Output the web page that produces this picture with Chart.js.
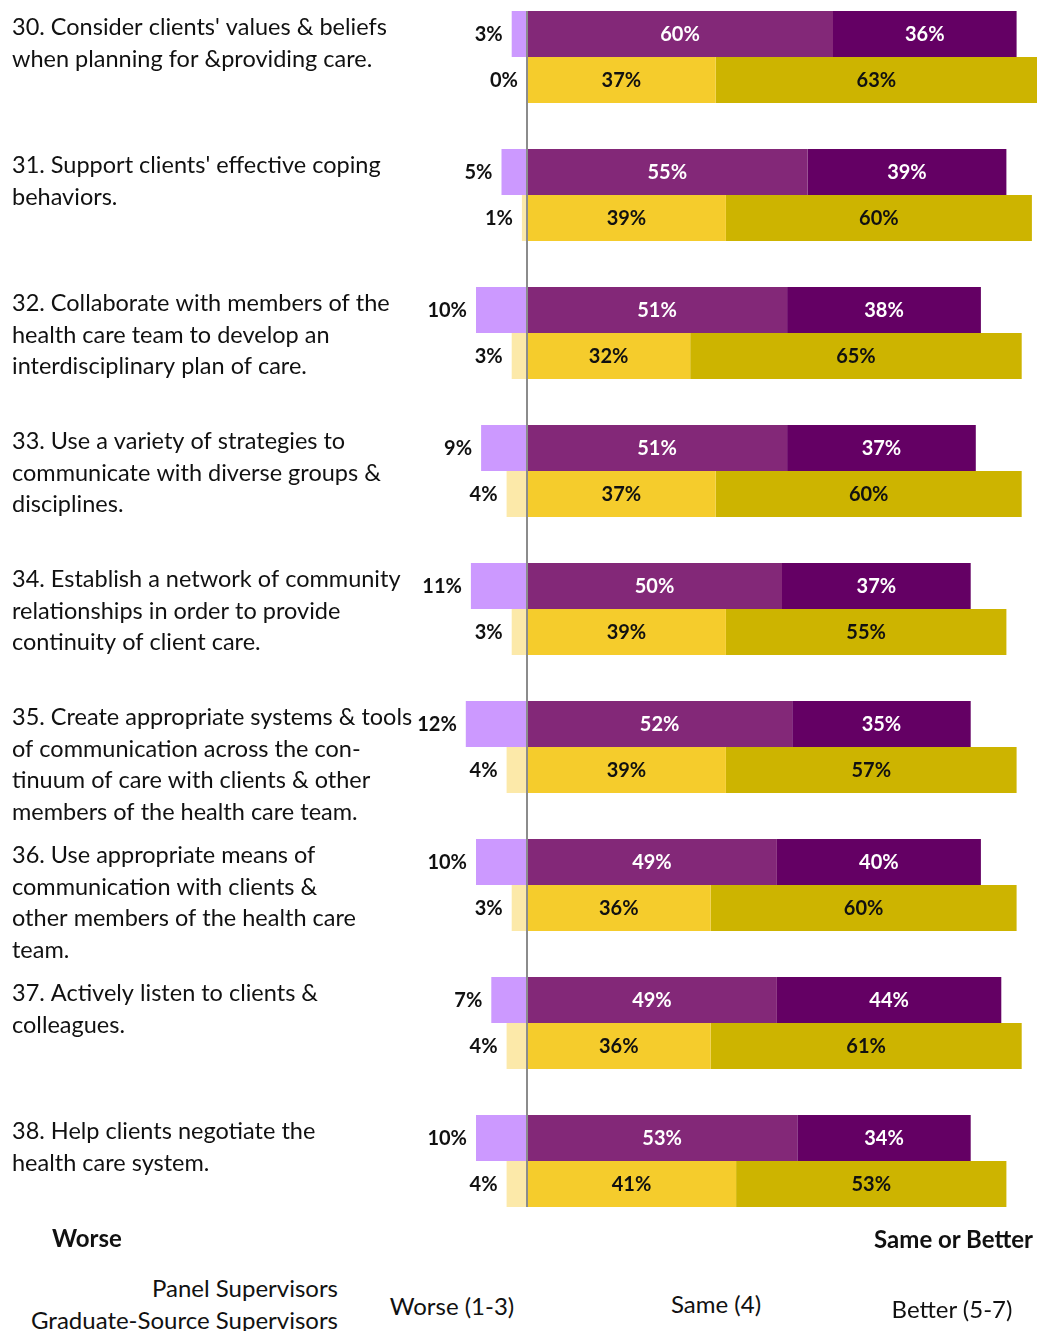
<!DOCTYPE html>
<html lang="en">
<head>
    <meta charset="UTF-8">
    <title>Worse / Same or Better</title>
    <script src="https://cdn.jsdelivr.net/npm/chart.js"></script>
    <style>
        body {
            margin: 0;
            width: 1037px;
            height: 1331px;
            position: relative;
            overflow: hidden;
            background: #fff;
            font-family: 'Lato', sans-serif;
            color: #111;
        }

        #wrap {
            position: absolute;
            left: 0;
            top: -12px;
            width: 1037px;
            height: 1242px;
        }

        .txt {
            position: absolute;
            font-size: 24px;
            white-space: nowrap;
            transform: translateY(-50%);
        }
    </style>
</head>
<body>
<div id="wrap"><canvas id="itemChart"></canvas></div>

<div class="txt" style="left:52px; top:1237px; font-weight:bold;">Worse</div>
<div class="txt" style="right:4px; top:1238px; font-weight:bold;">Same or Better</div>
<div class="txt" style="right:699px; top:1287px;">Panel Supervisors</div>
<div class="txt" style="right:699px; top:1319px;">Graduate-Source Supervisors</div>
<div class="txt" style="left:452px; top:1305px; transform:translate(-50%,-50%);">Worse (1-3)</div>
<div class="txt" style="left:716px; top:1303px; transform:translate(-50%,-50%);">Same (4)</div>
<div class="txt" style="left:952px; top:1308px; transform:translate(-50%,-50%);">Better (5-7)</div>

<script>
    // question labels (line breaks as in the original)
    const questions = [
        ["30. Consider clients' values & beliefs", "when planning for &providing care.", ""],
        ["31. Support clients' effective coping", "behaviors.", ""],
        ["32. Collaborate with members of the", "health care team to develop an", "interdisciplinary plan of care."],
        ["33. Use a variety of strategies to", "communicate with diverse groups &", "disciplines."],
        ["34. Establish a network of community", "relationships in order to provide", "continuity of client care."],
        ["", "35. Create appropriate systems & tools", "of communication across the con-", "tinuum of care with clients & other", "members of the health care team."],
        ["", "36. Use appropriate means of", "communication with clients &", "other members of the health care", "team."],
        ["37. Actively listen to clients &", "colleagues.", ""],
        ["38. Help clients negotiate the", "health care system.", ""]
    ];

    // Panel Supervisors (%)
    const panelWorse = [3, 5, 10, 9, 11, 12, 10, 7, 10];
    const panelSame = [60, 55, 51, 51, 50, 52, 49, 49, 53];
    const panelBetter = [36, 39, 38, 37, 37, 35, 40, 44, 34];

    // Graduate-Source Supervisors (%)
    const gradWorse = [0, 1, 3, 4, 3, 4, 3, 4, 4];
    const gradSame = [37, 39, 32, 37, 39, 39, 36, 36, 41];
    const gradBetter = [63, 60, 65, 60, 55, 57, 60, 61, 53];

    // worse is drawn to the left of zero
    const neg = arr => arr.map(v => -v);

    const labelFont = 'bold 20px Lato, sans-serif';

    // draws the % labels and the zero line
    const barLabels = {
        id: 'barLabels',
        afterDatasetsDraw(chart) {
            const ctx = chart.ctx;
            ctx.save();
            ctx.font = labelFont;
            ctx.textBaseline = 'middle';
            chart.data.datasets.forEach((ds, i) => {
                const meta = chart.getDatasetMeta(i);
                meta.data.forEach((bar, j) => {
                    const v = ds.data[j];
                    const txt = Math.abs(v) + '%';
                    if (ds.isWorse) {
                        ctx.fillStyle = '#111';
                        ctx.textAlign = 'right';
                        ctx.fillText(txt, Math.min(bar.x, bar.base) - 9, bar.y + 1);
                    } else {
                        ctx.fillStyle = ds.labelColor;
                        ctx.textAlign = 'center';
                        ctx.fillText(txt, (bar.x + bar.base) / 2, bar.y + 1);
                    }
                });
            });

            // zero line
            const x0 = chart.scales.x.getPixelForValue(0);
            const first = chart.getDatasetMeta(0).data[0];
            const last = chart.getDatasetMeta(3).data[questions.length - 1];
            ctx.strokeStyle = '#8c8c8c';
            ctx.lineWidth = 2;
            ctx.beginPath();
            ctx.moveTo(x0, first.y - first.height / 2);
            ctx.lineTo(x0, last.y + last.height / 2);
            ctx.stroke();
            ctx.restore();
        }
    };

    const ctx = document.getElementById('itemChart').getContext('2d');
    new Chart(ctx, {
        type: 'bar',
        data: {
            labels: questions,
            datasets: [
                {label: 'Panel Worse', data: neg(panelWorse), stack: 'panel', backgroundColor: '#cc99ff', isWorse: true},
                {label: 'Panel Same', data: panelSame, stack: 'panel', backgroundColor: '#832878', labelColor: '#ffffff'},
                {label: 'Panel Better', data: panelBetter, stack: 'panel', backgroundColor: '#640064', labelColor: '#ffffff'},
                {label: 'Grad Worse', data: neg(gradWorse), stack: 'grad', backgroundColor: '#fce9a9', isWorse: true},
                {label: 'Grad Same', data: gradSame, stack: 'grad', backgroundColor: '#f5cc2c', labelColor: '#111'},
                {label: 'Grad Better', data: gradBetter, stack: 'grad', backgroundColor: '#cdb400', labelColor: '#111'}
            ]
        },
        options: {
            indexAxis: 'y',
            responsive: true,
            maintainAspectRatio: false,
            animation: false,
            layout: {padding: {left: 12, right: 0, top: 0, bottom: 0}},
            datasets: {
                bar: {
                    categoryPercentage: 0.667,
                    barPercentage: 1.0,
                    borderWidth: 0
                }
            },
            scales: {
                x: {
                    stacked: true,
                    min: -20,
                    max: 100,
                    display: false
                },
                y: {
                    stacked: true,
                    grid: {display: false},
                    border: {display: false},
                    afterFit: s => {
                        s.width = 413;
                        s.paddingTop = 0;
                        s.paddingBottom = 0;
                    },
                    ticks: {
                        autoSkip: false,
                        crossAlign: 'far',
                        labelOffset: 2,
                        color: '#111',
                        padding: 0,
                        font: {family: 'Lato', size: 23.5, lineHeight: 1.34}
                    }
                }
            },
            plugins: {
                legend: {display: false},
                tooltip: {enabled: false}
            }
        },
        plugins: [barLabels]
    });
</script>
</body>
</html>
